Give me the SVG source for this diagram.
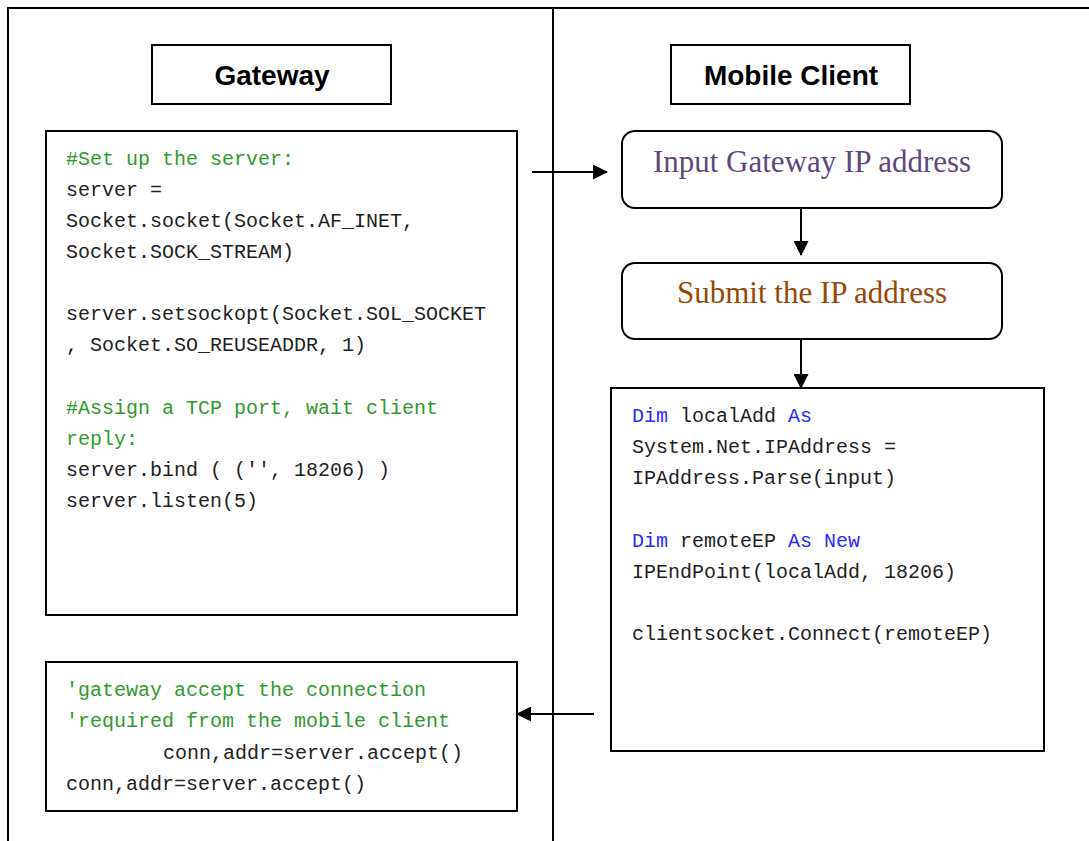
<svg xmlns="http://www.w3.org/2000/svg" width="1089" height="841" viewBox="0 0 1089 841">
  <style>
    .frame { fill: none; stroke: #000; stroke-width: 2; }
    .box { fill: #fff; stroke: #000; stroke-width: 2; }
    .head { font-family: "Liberation Sans", Arial, sans-serif; font-weight: bold; font-size: 28px; fill: #000; text-anchor: middle; }
    .step { font-family: "Liberation Serif", "Times New Roman", serif; font-size: 31px; text-anchor: middle; }
    .code { font-family: "Liberation Mono", "Courier New", monospace; font-size: 20px; fill: #222; white-space: pre; }
    .cm { fill: #2f9a2f; }
    .kw { fill: #2a2aff; }
    .conn { stroke: #000; stroke-width: 2; fill: none; }
  </style>
  <defs>
    <marker id="arrow" viewBox="0 0 15 15" refX="14" refY="7.5" markerWidth="15" markerHeight="15" markerUnits="userSpaceOnUse" orient="auto">
      <path d="M0,0 L15,7.5 L0,15 Z" fill="#000"/>
    </marker>
  </defs>

  <rect width="1089" height="841" fill="#fff"/>

  <!-- swimlane frame -->
  <g id="lanes" class="frame">
    <path d="M8,841 V8 H1089"/>
    <path d="M553,8 V841"/>
  </g>

  <!-- lane headers -->
  <g id="gateway-header">
    <rect class="box" x="152" y="45" width="239" height="59"/>
    <text class="head" x="272" y="85">Gateway</text>
  </g>
  <g id="client-header">
    <rect class="box" x="671" y="45" width="239" height="59"/>
    <text class="head" x="791" y="85">Mobile Client</text>
  </g>

  <!-- gateway: server setup -->
  <g id="server-setup">
    <rect class="box" x="46" y="131" width="471" height="484"/>
    <text class="code" x="66" y="165"><tspan class="cm">#Set up the server:</tspan></text>
    <text class="code" x="66" y="196">server =</text>
    <text class="code" x="66" y="227">Socket.socket(Socket.AF_INET,</text>
    <text class="code" x="66" y="258">Socket.SOCK_STREAM)</text>
    <text class="code" x="66" y="320">server.setsockopt(Socket.SOL_SOCKET</text>
    <text class="code" x="66" y="351">, Socket.SO_REUSEADDR, 1)</text>
    <text class="code" x="66" y="414"><tspan class="cm">#Assign a TCP port, wait client</tspan></text>
    <text class="code" x="66" y="445"><tspan class="cm">reply:</tspan></text>
    <text class="code" x="66" y="476">server.bind ( ('', 18206) )</text>
    <text class="code" x="66" y="507">server.listen(5)</text>
  </g>

  <!-- gateway: accept -->
  <g id="server-accept">
    <rect class="box" x="46" y="662" width="471" height="149"/>
    <text class="code" x="66" y="696"><tspan class="cm">'gateway accept the connection</tspan></text>
    <text class="code" x="66" y="727"><tspan class="cm">'required from the mobile client</tspan></text>
    <text class="code" x="163" y="759">conn,addr=server.accept()</text>
    <text class="code" x="66" y="790">conn,addr=server.accept()</text>
  </g>

  <!-- client steps -->
  <g id="input-ip">
    <rect class="box" x="622" y="131" width="380" height="77" rx="13"/>
    <text class="step" x="812" y="172" fill="#5f497a">Input Gateway IP address</text>
  </g>
  <g id="submit-ip">
    <rect class="box" x="622" y="263" width="380" height="76" rx="13"/>
    <text class="step" x="812" y="303" fill="#984806">Submit the IP address</text>
  </g>

  <!-- client: connect -->
  <g id="client-connect">
    <rect class="box" x="611" y="388" width="433" height="363"/>
    <text class="code" x="632" y="422"><tspan class="kw">Dim</tspan> localAdd <tspan class="kw">As</tspan></text>
    <text class="code" x="632" y="453">System.Net.IPAddress =</text>
    <text class="code" x="632" y="484">IPAddress.Parse(input)</text>
    <text class="code" x="632" y="547"><tspan class="kw">Dim</tspan> remoteEP <tspan class="kw">As</tspan> <tspan class="kw">New</tspan></text>
    <text class="code" x="632" y="578">IPEndPoint(localAdd, 18206)</text>
    <text class="code" x="632" y="640">clientsocket.Connect(remoteEP)</text>
  </g>

  <!-- connectors -->
  <g id="connectors" class="conn">
    <line x1="532" y1="172" x2="607" y2="172" marker-end="url(#arrow)"/>
    <line x1="801" y1="208" x2="801" y2="255" marker-end="url(#arrow)"/>
    <line x1="801" y1="339" x2="801" y2="388" marker-end="url(#arrow)"/>
    <line x1="594" y1="714" x2="517" y2="714" marker-end="url(#arrow)"/>
  </g>
</svg>
